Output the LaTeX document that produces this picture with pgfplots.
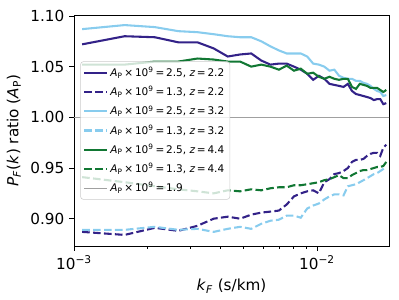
\documentclass[border=0pt]{standalone}
\usepackage{pgfplots}
\pgfplotsset{compat=1.18}
\usepackage{pgfplotstable}
\usepackage{fontspec}
\setmainfont{DejaVu Sans}
\definecolor{cdb}{HTML}{332288}
\definecolor{clb}{HTML}{88CCEE}
\definecolor{cgr}{HTML}{117733}
\definecolor{cgy}{HTML}{A0A0A0}
\pgfplotstableread{
k db dbd lb lbd g gd
0.001080 1.072 0.887 1.087 0.889 1.052 0.941
0.001615 1.080 0.884 1.091 0.889 1.052 0.936
0.002150 1.079 0.891 1.089 0.892 1.055 0.932
0.002685 1.074 0.888 1.085 0.889 1.055 0.929
0.003220 1.074 0.893 1.084 0.890 1.058 0.927
0.003755 1.068 0.900 1.082 0.887 1.057 0.925
0.004290 1.060 0.902 1.080 0.890 1.055 0.928
0.004825 1.062 0.900 1.079 0.892 1.055 0.927
0.005360 1.063 0.904 1.079 0.890 1.050 0.929
0.005895 1.056 0.906 1.075 0.895 1.052 0.928
0.006430 1.052 0.907 1.070 0.898 1.050 0.930
0.006965 1.053 0.908 1.066 0.899 1.047 0.931
0.007500 1.053 0.914 1.063 0.903 1.051 0.931
0.008035 1.050 0.922 1.063 0.903 1.046 0.933
0.008570 1.047 0.925 1.063 0.901 1.048 0.933
0.009105 1.043 0.927 1.060 0.910 1.043 0.934
0.009640 1.037 0.928 1.053 0.913 1.044 0.935
0.010175 1.041 0.925 1.052 0.915 1.040 0.936
0.010710 1.038 0.936 1.050 0.919 1.038 0.938
0.011245 1.033 0.939 1.046 0.922 1.040 0.939
0.011780 1.032 0.944 1.047 0.924 1.038 0.941
0.012315 1.031 0.945 1.041 0.924 1.037 0.943
0.012850 1.030 0.947 1.039 0.923 1.038 0.940
0.013385 1.033 0.950 1.038 0.932 1.038 0.940
0.013920 1.026 0.956 1.038 0.933 1.030 0.943
0.014455 1.023 0.958 1.036 0.934 1.028 0.945
0.014990 1.022 0.958 1.036 0.936 1.033 0.947
0.015525 1.021 0.959 1.034 0.938 1.032 0.948
0.016060 1.020 0.962 1.033 0.940 1.031 0.948
0.016595 1.019 0.964 1.031 0.942 1.029 0.949
0.017130 1.017 0.965 1.028 0.944 1.029 0.950
0.017665 1.018 0.965 1.026 0.945 1.029 0.951
0.018200 1.018 0.962 1.025 0.947 1.027 0.951
0.018735 1.013 0.970 1.021 0.949 1.025 0.952
0.019270 1.014 0.973 1.022 0.951 1.027 0.956
}\data
\newcommand{\AP}{\textit{A}\textsubscript{P}}
\newcommand{\ent}[2]{\AP\,×\,10\textsuperscript{9}\,=\,#1, \textit{z}\,=\,#2}
\begin{document}
\begin{tikzpicture}
\begin{axis}[
  scale only axis,
  width=227.6pt, height=167pt,
  xmode=log,
  xmin=0.001, xmax=0.01978,
  ymin=0.873, ymax=1.101,
  xtick={0.001,0.01},
  xticklabels={10\textsuperscript{−3},10\textsuperscript{−2}},
  minor xtick={0.002,0.003,0.004,0.005,0.006,0.007,0.008,0.009,0.02},
  ytick={0.90,0.95,1.00,1.05,1.10},
  yticklabel style={/pgf/number format/assume math mode=true,/pgf/number format/fixed,/pgf/number format/fixed zerofill,/pgf/number format/precision=2},
  tick label style={font=\fontsize{11}{13}\selectfont},
  label style={font=\fontsize{11}{13}\selectfont},
  tick align=outside,
  tick pos=left,
  major tick length=3.5pt,
  minor tick length=2pt,
  every tick/.style={black, line width=0.6pt},
  axis line style={line width=0.6pt},
  xlabel={\textit{k}\textsubscript{\textit{F}} (s/km)},
  ylabel={\textit{P}\textsubscript{\textit{F}}(\textit{k}) ratio (\AP)},
  legend cell align=left,
  legend style={at={(0.02,0.5)}, anchor=west, font=\fontsize{7.6}{9}\selectfont,
    draw=black!20, fill=white, fill opacity=0.8, text opacity=1, rounded corners=2pt,
    row sep=1.6pt, inner sep=2pt},
  legend image code/.code={\draw[#1] (0pt,0pt) -- (16pt,0pt);},
]
\addplot[cdb, line width=1.5pt] table[x=k,y=db] {\data};
\addlegendentry{\ent{2.5}{2.2}}
\addplot[cdb, line width=1.5pt, dash pattern=on 5.5pt off 2.4pt] table[x=k,y=dbd] {\data};
\addlegendentry{\ent{1.3}{2.2}}
\addplot[clb, line width=1.5pt] table[x=k,y=lb] {\data};
\addlegendentry{\ent{2.5}{3.2}}
\addplot[clb, line width=1.5pt, dash pattern=on 5.5pt off 2.4pt] table[x=k,y=lbd] {\data};
\addlegendentry{\ent{1.3}{3.2}}
\addplot[cgr, line width=1.5pt] table[x=k,y=g] {\data};
\addlegendentry{\ent{2.5}{4.4}}
\addplot[cgr, line width=1.5pt, dash pattern=on 5.5pt off 2.4pt] table[x=k,y=gd] {\data};
\addlegendentry{\ent{1.3}{4.4}}
\addplot[cgy, line width=0.8pt] coordinates {(0.0009,1.0) (0.03,1.0)};
\addlegendentry{\AP\,×\,10\textsuperscript{9}\,=\,1.9}
\end{axis}
\pgfresetboundingbox
\path (current axis.south west) ++(-53.5pt,-38.3pt) (current axis.north east) ++(7.2pt,10.8pt);
\end{tikzpicture}
\end{document}
